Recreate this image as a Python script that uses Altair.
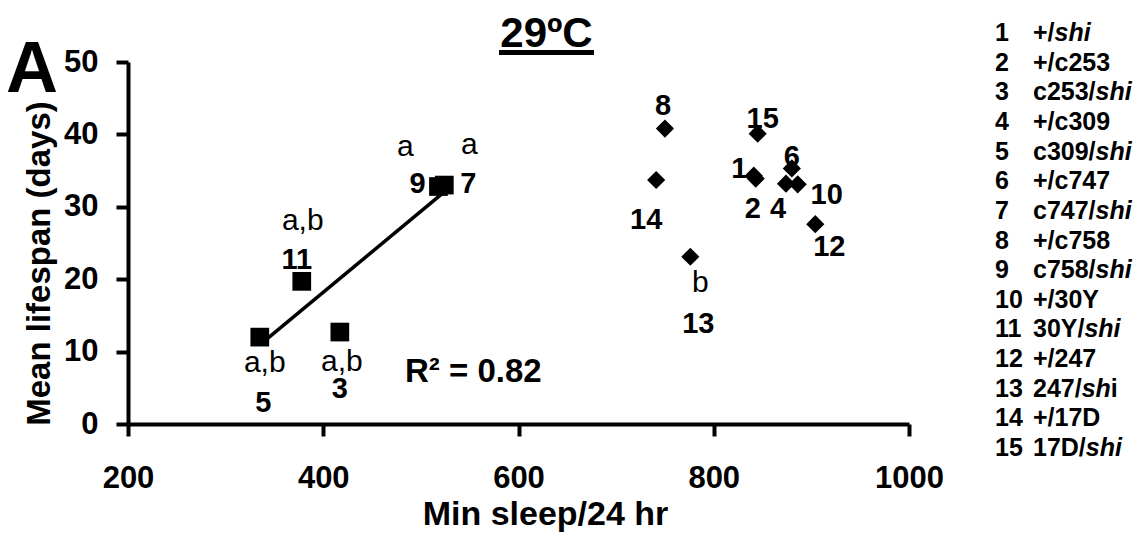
import altair as alt
import pandas as pd

FONT = "Liberation Sans"

# ---------------- data ----------------
genotype_id = list(range(1, 16))
min_sleep = [841, 843, 417, 874, 335, 880, 524, 750, 518, 886, 378, 904, 776, 741, 845]
mean_lifespan = [34.3, 33.9, 12.7, 33.2, 12.0, 35.3, 33.0, 40.8, 32.8, 33.1, 19.7, 27.6, 23.1, 33.7, 40.1]
marker = ["diamond", "diamond", "square", "diamond", "square", "diamond", "square", "diamond",
          "square", "diamond", "square", "diamond", "diamond", "diamond", "diamond"]
sig_letters = ["", "", "a,b", "", "a,b", "", "a", "", "a", "", "a,b", "", "b", "", ""]

legend_prefix = ["+/", "+/c253", "c253/", "+/c309", "c309/", "+/c747", "c747/", "+/c758",
                 "c758/", "+/30Y", "30Y/", "+/247", "247/", "+/17D", "17D/"]
legend_italic = ["shi", "", "shi", "", "shi", "", "shi", "", "shi", "", "shi", "", "sh", "", "shi"]
legend_suffix = ["", "", "", "", "", "", "", "", "", "", "", "", "i", "", ""]

x_ticks = [200, 400, 600, 800, 1000]
y_ticks = [0, 10, 20, 30, 40, 50]
title_text = "29ºC"
panel_letter = "A"
r2_text = "R² = 0.82"

# ---------------- layout / styling ----------------
W, H = 781, 362
PAD = {"left": 128, "top": 62, "right": 1143 - 128 - 781, "bottom": 537 - 62 - 362}

# pixel offsets of the number label and significance letters from each marker
num_dx = [-14.5, -3, 0, -8, 3.5, 0, 24, -2, -21, 29, -5, 14, 8, -10, 5]
num_dy = [-7, 30, 57, 25, 66, -11, -1, -23, -3, 11, -21, 23, 67, 40, -15]
let_dx = {3: 2, 5: 5, 7: 25, 9: -33, 11: 1, 13: 10}
let_dy = {3: 30, 5: 26, 7: -40, 9: -40, 11: -60, 13: 26}

LEG_FS = 25
LEG_NUM_X = 995
LEG_TXT_X = 1033
# Liberation Sans Bold advance widths (per 1000 em)
CW = {**{d: 556 for d in "0123456789"}, "+": 584, "/": 278, "c": 556, "Y": 667, "D": 722,
      "s": 556, "h": 611, "i": 278, " ": 278}


def tw(s):
    return sum(CW.get(ch, 556) for ch in s) * LEG_FS / 1000.0


df = pd.DataFrame({"id": genotype_id, "sleep": min_sleep, "life": mean_lifespan,
                   "marker": marker, "letters": sig_letters})

xs = alt.Scale(domain=[200, 1000], nice=False, zero=False)
ys = alt.Scale(domain=[0, 50], nice=False)

x_axis = alt.Axis(values=x_ticks, format="d", grid=False, domainWidth=4, domainColor="black",
                  tickWidth=4, tickSize=12, tickColor="black", labelFont=FONT, labelFontSize=31,
                  labelFontWeight="bold", labelColor="black", labelPadding=27, labelFlush=False,
                  title="Min sleep/24 hr", titleFont=FONT, titleFontSize=34, titleFontWeight="bold",
                  titleColor="black", titlePadding=4, titleX=545 - 128)
y_axis = alt.Axis(values=y_ticks, format="d", grid=False, domainWidth=4, domainColor="black",
                  tickWidth=4, tickSize=12, tickColor="black", labelFont=FONT, labelFontSize=31,
                  labelFontWeight="bold", labelColor="black", labelPadding=18, labelFlush=False,
                  title="Mean lifespan (days)", titleFont=FONT, titleFontSize=33, titleFontWeight="bold",
                  titleColor="black", titlePadding=7, titleY=263 - 62)

base = alt.Chart(df).encode(
    x=alt.X("sleep:Q", scale=xs, axis=x_axis),
    y=alt.Y("life:Q", scale=ys, axis=y_axis),
)

reg_line = base.transform_filter(alt.datum.marker == "square").transform_regression(
    "sleep", "life", method="linear"
).mark_line(color="black", strokeWidth=3.5)

squares = base.transform_filter(alt.datum.marker == "square").mark_point(
    shape="square", size=350, filled=True, color="black", opacity=1)
diamonds = base.transform_filter(alt.datum.marker == "diamond").mark_point(
    shape="diamond", size=330, filled=True, color="black", opacity=1)

label_layers = []
for i, gid in enumerate(genotype_id):
    label_layers.append(
        base.transform_filter(alt.datum.id == gid).mark_text(
            font=FONT, fontSize=29, fontWeight="bold", color="black", align="center",
            baseline="middle", dx=num_dx[i], dy=num_dy[i]
        ).encode(text="id:N")
    )
    if sig_letters[i]:
        label_layers.append(
            base.transform_filter(alt.datum.id == gid).mark_text(
                font=FONT, fontSize=30, fontWeight="normal", color="black", align="center",
                baseline="middle", dx=let_dx[gid], dy=let_dy[gid]
            ).encode(text="letters:N")
        )

one = pd.DataFrame({"t": [title_text]})
title_mark = alt.Chart(one).mark_text(
    font=FONT, fontSize=42, fontWeight="bold", color="black", align="center", baseline="alphabetic"
).encode(x=alt.value(546.5 - 128), y=alt.value(46.5 - 62), text="t:N")
underline = alt.Chart(one).mark_rule(color="black", strokeWidth=5).encode(
    x=alt.value(499 - 128), x2=alt.value(594 - 128), y=alt.value(52.5 - 62))
letter_mark = alt.Chart(pd.DataFrame({"t": [panel_letter]})).mark_text(
    font=FONT, fontSize=72, fontWeight="bold", color="black", align="left", baseline="alphabetic"
).encode(x=alt.value(6 - 128), y=alt.value(92 - 62), text="t:N")
r2_mark = alt.Chart(pd.DataFrame({"t": [r2_text]})).mark_text(
    font=FONT, fontSize=33, fontWeight="bold", color="black", align="left", baseline="alphabetic"
).encode(x=alt.value(405 - 128), y=alt.value(382 - 62), text="t:N")

main = alt.layer(reg_line, squares, diamonds, *label_layers,
                 title_mark, underline, letter_mark, r2_mark)

# ---------------- custom numbered genotype list ----------------
roman_rows, italic_rows = [], []
for k in range(15):
    row = k + 1
    roman_rows.append({"row": row, "px": LEG_NUM_X, "t": str(row)})
    roman_rows.append({"row": row, "px": LEG_TXT_X, "t": legend_prefix[k]})
    xi = LEG_TXT_X + tw(legend_prefix[k])
    if legend_italic[k]:
        italic_rows.append({"row": row, "px": xi, "t": legend_italic[k]})
    if legend_suffix[k]:
        roman_rows.append({"row": row, "px": xi + tw(legend_italic[k]), "t": legend_suffix[k]})

px_scale = alt.Scale(domain=[0, 1143], range=[-128, 1015], nice=False, zero=False)
row_scale = alt.Scale(domain=[1, 15], range=[33 - 62, 448 - 62], nice=False, zero=False)

leg_roman = alt.Chart(pd.DataFrame(roman_rows)).mark_text(
    font=FONT, fontSize=LEG_FS, fontWeight="bold", color="black", align="left", baseline="middle"
).encode(x=alt.X("px:Q", scale=px_scale, axis=None),
         y=alt.Y("row:Q", scale=row_scale, axis=None), text="t:N")
leg_italic = alt.Chart(pd.DataFrame(italic_rows)).mark_text(
    font=FONT, fontSize=LEG_FS, fontWeight="bold", fontStyle="italic", color="black",
    align="left", baseline="middle"
).encode(x=alt.X("px:Q", scale=px_scale, axis=None),
         y=alt.Y("row:Q", scale=row_scale, axis=None), text="t:N")

deco = alt.layer(leg_roman, leg_italic)

chart = alt.layer(main, deco).resolve_scale(x="independent", y="independent").properties(
    width=W, height=H, autosize=alt.AutoSizeParams(type="none"), padding=PAD,
    background="white",
).configure_view(strokeWidth=0)

chart.save("out.html", embed_options={"renderer": "svg", "actions": False})
